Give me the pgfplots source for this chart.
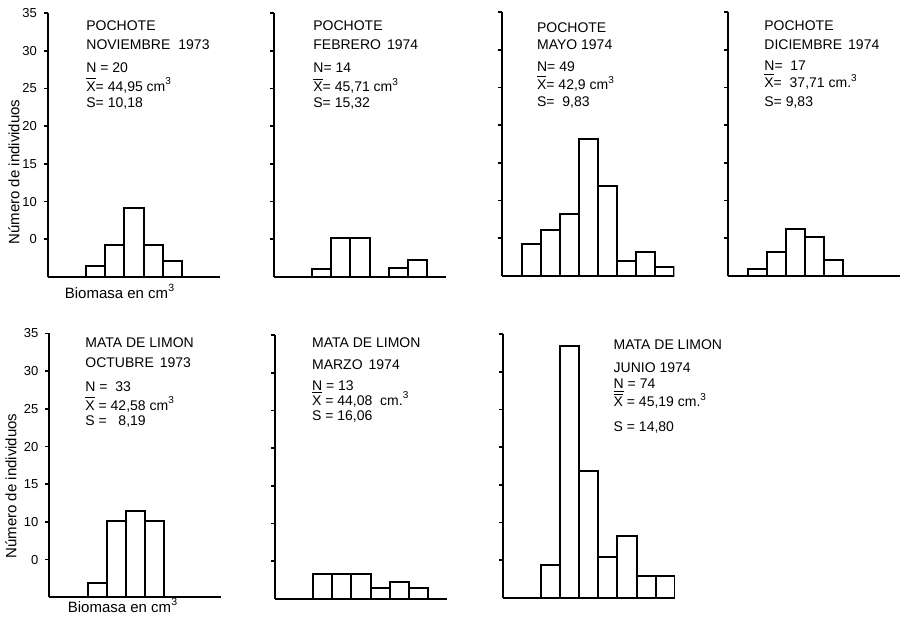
\documentclass[border=0pt]{standalone}
\usepackage{pgfplots}
\pgfplotsset{compat=1.18}
\usepackage{fontspec}
\setmainfont{Liberation Sans}
\newcommand{\tf}{\fontsize{7}{8}\selectfont}
\newcommand{\xbar}{$\overline{\mbox{X}}$}
\begin{document}
\begin{tikzpicture}
\path[use as bounding box] (0,0) rectangle (452.5pt,309pt);
\pgfplotsset{
  hist/.style={
    scale only axis, width=86pt, height=132pt,
    xmin=0, xmax=9, ymin=0, ymax=35,
    axis x line=bottom, axis y line=left,
    axis line style={-, line width=1pt, black},
    xtick=\empty,
    ytick={5,10,...,35},
    yticklabels={},
    tick align=outside,
    major tick length=2pt,
    tick style={line width=0.8pt, black},
    yticklabel style={font=\fontsize{6.5}{7}\selectfont},
    /pgf/number format/assume math mode=true,
    anchor=south west,
  },
  firstcol/.style={yticklabels={0,10,15,20,25,30,35}},
}
\tikzset{hb/.style={ybar interval, draw=black, fill=white, line width=1pt}}

% POCHOTE NOVIEMBRE 1973
\begin{axis}[hist, firstcol, at={(24pt,170.5pt)}]
\addplot[hb] coordinates {(2,1.42) (3,4.2) (4,9.15) (5,4.2) (6,2.08) (7,0)};
\end{axis}
% POCHOTE FEBRERO 1974
\begin{axis}[hist, at={(137pt,170.5pt)}]
\addplot[hb] coordinates {(2,1.1) (3,5.17) (4,5.17) (5,0) (6,1.19) (7,2.25) (8,0)};
\end{axis}
% POCHOTE MAYO 1974
\begin{axis}[hist, at={(251.2pt,171pt)}]
\addplot[hb] coordinates {(1,4.2) (2,6.14) (3,8.22) (4,18.1) (5,11.9) (6,2.03) (7,3.22) (8,1.23) (9,0)};
\end{axis}
% POCHOTE DICIEMBRE 1974
\begin{axis}[hist, at={(364.2pt,171pt)}]
\addplot[hb] coordinates {(1,0.97) (2,3.14) (3,6.19) (4,5.13) (5,2.16) (6,0)};
\end{axis}
% MATA DE LIMON OCTUBRE 1973
\begin{axis}[hist, firstcol, at={(24.7pt,10.3pt)}]
\addplot[hb] coordinates {(2,1.96) (3,10.1) (4,11.4) (5,10.1) (6,0)};
\end{axis}
% MATA DE LIMON MARZO 1974
\begin{axis}[hist, at={(137.5pt,9.5pt)}]
\addplot[hb] coordinates {(2,3.3) (3,3.3) (4,3.3) (5,1.45) (6,2.25) (7,1.4) (8,0)};
\end{axis}
% MATA DE LIMON JUNIO 1974
\begin{axis}[hist, at={(251.4pt,10pt)}]
\addplot[hb] coordinates {(2,4.4) (3,33.4) (4,16.9) (5,5.5) (6,8.2) (7,2.9) (8,2.9) (9,0)};
\end{axis}

\begin{scope}[x=0.5pt, y=-0.5pt, shift={(0pt,309pt)}, every node/.style={anchor=base west, inner sep=0pt, font=\tf}]
% panel 1
\node at (86,30.5) {POCHOTE};
\node at (86,49) {NOVIEMBRE\hspace{4pt}1973};
\node at (86,72) {N = 20};
\node at (86,91) {\xbar= 44,95 cm\textsuperscript{3}};
\node at (86,107) {S= 10,18};
% panel 2
\node at (313,30.7) {POCHOTE};
\node at (313,49.3) {FEBRERO\hspace{3pt}1974};
\node at (313,72.7) {N= 14};
\node at (313,91.7) {\xbar= 45,71 cm\textsuperscript{3}};
\node at (313,107.3) {S= 15,32};
% panel 3
\node at (536.7,32.3) {POCHOTE};
\node at (536.7,49.3) {MAYO 1974};
\node at (536.7,71.7) {N= 49};
\node at (536.7,89.3) {\xbar= 42,9 cm\textsuperscript{3}};
\node at (536.7,106.7) {S= \ 9,83};
% panel 4
\node at (764,30.7) {POCHOTE};
\node at (764,49.3) {DICIEMBRE\hspace{3pt}1974};
\node at (764,70.7) {N= \ 17};
\node at (764,87.3) {\xbar= \ 37,71 cm.\textsuperscript{3}};
\node at (764,106.7) {S= 9,83};
% panel 5
\node at (85,347.3) {MATA DE LIMON};
\node at (85,367.3) {OCTUBRE\hspace{3pt}1973};
\node at (85,391.7) {N = \ 33};
\node at (85,410) {\xbar\ = 42,58 cm\textsuperscript{3}};
\node at (85,425) {S = \ \ 8,19};
% panel 6
\node at (311.7,347.3) {MATA DE LIMON};
\node at (311.7,369) {MARZO\hspace{3pt}1974};
\node at (311.7,390) {\underline{N} = 13};
\node at (311.7,405) {\xbar\ = 44,08 \ cm.\textsuperscript{3}};
\node at (311.7,420) {S = 16,06};
% panel 7
\node at (613.3,349.3) {MATA DE LIMON};
\node at (613.3,372.3) {JUNIO 1974};
\node at (613.3,388.3) {\underline{N} = 74};
\node at (613.3,406.7) {\xbar\ = 45,19 cm.\textsuperscript{3}};
\node at (613.3,431.7) {S = 14,80};
% axis labels
\node[rotate=90, anchor=center, font=\fontsize{7.5}{8}\selectfont] at (14,172) {Número de individuos};
\node[rotate=90, anchor=center, font=\fontsize{7.5}{8}\selectfont] at (11,486) {Número de individuos};
\node[anchor=base, font=\fontsize{7.5}{8}\selectfont] at (120,298) {Biomasa en cm\textsuperscript{3}};
\node[anchor=base, font=\fontsize{7.5}{8}\selectfont] at (123,612) {Biomasa en cm\textsuperscript{3}};
\end{scope}
\end{tikzpicture}
\end{document}
